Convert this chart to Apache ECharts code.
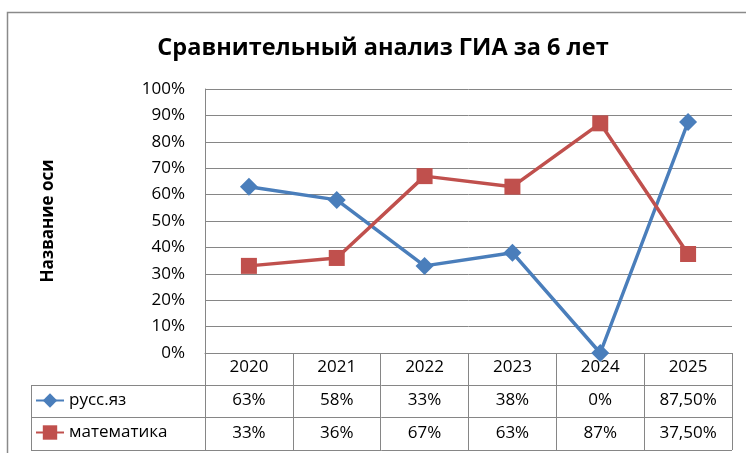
<!DOCTYPE html>
<html lang="ru">
<head>
    <meta charset="utf-8">
    <title>Сравнительный анализ ГИА</title>
    <script src="https://cdn.jsdelivr.net/npm/echarts@6/dist/echarts.min.js"></script>
    <style>
        html, body { margin: 0; padding: 0; background: #fff; }
    </style>
</head>
<body>
    <div id="main" style="width:746px;height:453px;"></div>

    <script type="text/javascript">
    // данные
    var years = ['2020', '2021', '2022', '2023', '2024', '2025'];
    var russ = [63, 58, 33, 38, 0, 87.5];
    var math = [33, 36, 67, 63, 87, 37.5];
    var yTicks = [0, 10, 20, 30, 40, 50, 60, 70, 80, 90, 100];

    // подписи в таблице данных, как в Excel
    function pct(v) {
        return (v % 1 ? v.toFixed(2).replace('.', ',') : v) + '%';
    }

    var plotLeft = 205, plotRight = 732, plotTop = 89, plotBottom = 353;
    var rowH = 32.5, tableLeft = 31;
    var lineColor = '#868686';
    var font = 'Open Sans';
    var fs = 17;

    var myChart = echarts.init(document.getElementById('main'));

    var tableLines = [];
    for (var i = 1; i <= 3; i++) {
        var y = Math.round(plotBottom + rowH * i) - 0.5;
        tableLines.push({
            type: 'line',
            shape: { x1: tableLeft, y1: y, x2: plotRight, y2: y },
            style: { stroke: lineColor, lineWidth: 1 }
        });
    }
    tableLines.push({
        type: 'line',
        shape: { x1: tableLeft + 0.5, y1: Math.round(plotBottom + rowH) - 0.5, x2: tableLeft + 0.5, y2: Math.round(plotBottom + rowH * 3) - 0.5 },
        style: { stroke: lineColor, lineWidth: 1 }
    });
    // рамка области диаграммы
    tableLines.push({
        type: 'rect',
        shape: { x: 7.5, y: 12.5, width: 760, height: 460 },
        style: { fill: 'none', stroke: '#8a8a8a', lineWidth: 1.5 }
    });

    myChart.setOption({
        animation: false,
        title: {
            text: 'Сравнительный анализ ГИА за 6 лет',
            left: 378,
            top: 31,
            textAlign: 'center',
            textStyle: { fontFamily: font, fontSize: 23.5, fontWeight: 'bold', color: '#000' }
        },
        legend: {
            orient: 'vertical',
            left: 35,
            top: 392,
            padding: 0,
            itemGap: 15,
            itemWidth: 28,
            itemHeight: 18,
            textStyle: { fontFamily: font, fontSize: fs, color: '#000' },
            data: ['русс.яз', 'математика']
        },
        graphic: tableLines,
        grid: { left: plotLeft, right: 746 - plotRight, top: plotTop, bottom: 453 - plotBottom },
        xAxis: [{
            type: 'category',
            data: years,
            boundaryGap: true,
            axisLine: { lineStyle: { color: lineColor } },
            axisTick: { show: true, interval: 0, length: Math.round(rowH * 3) - 1, lineStyle: { color: lineColor } },
            axisLabel: { margin: 6, fontFamily: font, fontSize: fs, color: '#000' }
        }, {
            type: 'category',
            data: russ.map(pct),
            position: 'bottom',
            axisLine: { show: false },
            axisTick: { show: false },
            axisLabel: { margin: 39, fontFamily: font, fontSize: fs, color: '#000' }
        }, {
            type: 'category',
            data: math.map(pct),
            position: 'bottom',
            axisLine: { show: false },
            axisTick: { show: false },
            axisLabel: { margin: 72, fontFamily: font, fontSize: fs, color: '#000' }
        }],
        yAxis: {
            type: 'value',
            min: yTicks[0],
            max: yTicks[yTicks.length - 1],
            interval: 10,
            name: 'Название оси',
            nameLocation: 'middle',
            nameRotate: 90,
            nameGap: 148,
            nameTextStyle: { fontFamily: font, fontSize: 17, fontWeight: 'bold', color: '#000' },
            axisLine: { show: true, lineStyle: { color: lineColor } },
            axisTick: { show: false },
            splitLine: { lineStyle: { color: lineColor } },
            axisLabel: { margin: 20, formatter: '{value}%', fontFamily: font, fontSize: fs, color: '#000' }
        },
        series: [{
            name: 'русс.яз',
            type: 'line',
            data: russ,
            symbol: 'diamond',
            symbolSize: 18,
            color: '#4a7ebb',
            lineStyle: { width: 3.5 }
        }, {
            name: 'математика',
            type: 'line',
            data: math,
            symbol: 'rect',
            symbolSize: 16,
            color: '#c0504d',
            lineStyle: { width: 3.5 }
        }]
    });
    </script>
</body>
</html>
